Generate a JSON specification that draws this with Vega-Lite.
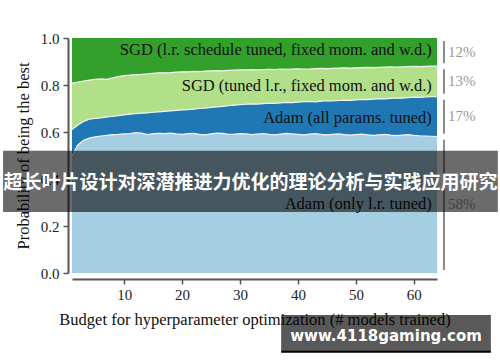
{
  "$schema": "https://vega.github.io/schema/vega-lite/v6.json",
  "autosize": "none",
  "width": 365,
  "height": 235,
  "padding": {"left": 72, "top": 38, "right": 63, "bottom": 89},
  "config": {"view": {"stroke": null}, "font": "Liberation Serif"},
  "datasets": {
    "curves": [
      {"x":1,"b1":0.500,"b2":0.610,"b3":0.808,"top":1},
      {"x":2,"b1":0.545,"b2":0.630,"b3":0.812,"top":1},
      {"x":3,"b1":0.565,"b2":0.645,"b3":0.817,"top":1},
      {"x":4,"b1":0.574,"b2":0.655,"b3":0.821,"top":1},
      {"x":5,"b1":0.579,"b2":0.658,"b3":0.824,"top":1},
      {"x":6,"b1":0.583,"b2":0.660,"b3":0.826,"top":1},
      {"x":7,"b1":0.586,"b2":0.664,"b3":0.824,"top":1},
      {"x":8,"b1":0.589,"b2":0.666,"b3":0.830,"top":1},
      {"x":9,"b1":0.590,"b2":0.670,"b3":0.836,"top":1},
      {"x":10,"b1":0.592,"b2":0.673,"b3":0.840,"top":1},
      {"x":11,"b1":0.593,"b2":0.676,"b3":0.842,"top":1},
      {"x":12,"b1":0.597,"b2":0.678,"b3":0.844,"top":1},
      {"x":13,"b1":0.595,"b2":0.680,"b3":0.845,"top":1},
      {"x":14,"b1":0.589,"b2":0.681,"b3":0.847,"top":1},
      {"x":15,"b1":0.593,"b2":0.684,"b3":0.850,"top":1},
      {"x":16,"b1":0.594,"b2":0.686,"b3":0.852,"top":1},
      {"x":17,"b1":0.593,"b2":0.688,"b3":0.852,"top":1},
      {"x":18,"b1":0.595,"b2":0.690,"b3":0.853,"top":1},
      {"x":19,"b1":0.592,"b2":0.692,"b3":0.855,"top":1},
      {"x":20,"b1":0.590,"b2":0.694,"b3":0.856,"top":1},
      {"x":21,"b1":0.593,"b2":0.695,"b3":0.856,"top":1},
      {"x":22,"b1":0.594,"b2":0.697,"b3":0.858,"top":1},
      {"x":23,"b1":0.590,"b2":0.700,"b3":0.857,"top":1},
      {"x":24,"b1":0.588,"b2":0.702,"b3":0.859,"top":1},
      {"x":25,"b1":0.592,"b2":0.705,"b3":0.860,"top":1},
      {"x":26,"b1":0.595,"b2":0.707,"b3":0.861,"top":1},
      {"x":27,"b1":0.594,"b2":0.709,"b3":0.860,"top":1},
      {"x":28,"b1":0.590,"b2":0.712,"b3":0.862,"top":1},
      {"x":29,"b1":0.591,"b2":0.714,"b3":0.863,"top":1},
      {"x":30,"b1":0.593,"b2":0.716,"b3":0.864,"top":1},
      {"x":31,"b1":0.592,"b2":0.718,"b3":0.864,"top":1},
      {"x":32,"b1":0.589,"b2":0.720,"b3":0.865,"top":1},
      {"x":33,"b1":0.591,"b2":0.719,"b3":0.864,"top":1},
      {"x":34,"b1":0.593,"b2":0.721,"b3":0.866,"top":1},
      {"x":35,"b1":0.590,"b2":0.723,"b3":0.867,"top":1},
      {"x":36,"b1":0.588,"b2":0.722,"b3":0.866,"top":1},
      {"x":37,"b1":0.591,"b2":0.724,"b3":0.868,"top":1},
      {"x":38,"b1":0.594,"b2":0.726,"b3":0.867,"top":1},
      {"x":39,"b1":0.592,"b2":0.725,"b3":0.868,"top":1},
      {"x":40,"b1":0.590,"b2":0.727,"b3":0.869,"top":1},
      {"x":41,"b1":0.588,"b2":0.729,"b3":0.868,"top":1},
      {"x":42,"b1":0.591,"b2":0.730,"b3":0.868,"top":1},
      {"x":43,"b1":0.593,"b2":0.728,"b3":0.870,"top":1},
      {"x":44,"b1":0.590,"b2":0.731,"b3":0.871,"top":1},
      {"x":45,"b1":0.588,"b2":0.733,"b3":0.870,"top":1},
      {"x":46,"b1":0.590,"b2":0.732,"b3":0.871,"top":1},
      {"x":47,"b1":0.592,"b2":0.734,"b3":0.872,"top":1},
      {"x":48,"b1":0.589,"b2":0.736,"b3":0.873,"top":1},
      {"x":49,"b1":0.587,"b2":0.735,"b3":0.872,"top":1},
      {"x":50,"b1":0.589,"b2":0.737,"b3":0.873,"top":1},
      {"x":51,"b1":0.591,"b2":0.739,"b3":0.874,"top":1},
      {"x":52,"b1":0.588,"b2":0.738,"b3":0.875,"top":1},
      {"x":53,"b1":0.586,"b2":0.740,"b3":0.874,"top":1},
      {"x":54,"b1":0.588,"b2":0.742,"b3":0.875,"top":1},
      {"x":55,"b1":0.590,"b2":0.741,"b3":0.876,"top":1},
      {"x":56,"b1":0.587,"b2":0.743,"b3":0.877,"top":1},
      {"x":57,"b1":0.585,"b2":0.745,"b3":0.876,"top":1},
      {"x":58,"b1":0.587,"b2":0.744,"b3":0.877,"top":1},
      {"x":59,"b1":0.589,"b2":0.746,"b3":0.878,"top":1},
      {"x":60,"b1":0.586,"b2":0.748,"b3":0.879,"top":1},
      {"x":61,"b1":0.584,"b2":0.747,"b3":0.878,"top":1},
      {"x":62,"b1":0.583,"b2":0.749,"b3":0.879,"top":1},
      {"x":63,"b1":0.582,"b2":0.750,"b3":0.880,"top":1},
      {"x":64,"b1":0.580,"b2":0.750,"b3":0.880,"top":1}
    ],
    "labels": [
      {"label":"SGD (l.r. schedule tuned, fixed mom. and w.d.)","y":0.949,"xl":63.1},
      {"label":"SGD (tuned l.r., fixed mom. and w.d.)","y":0.796,"xl":63.1},
      {"label":"Adam (all params. tuned)","y":0.658,"xl":63.1},
      {"label":"Adam (only l.r. tuned)","y":0.294,"xl":63.1}
    ],
    "shares": [
      {"pct":"12%","lo":0.88,"hi":1.0,"mid":0.942,"xr":65.2,"xt":65.9},
      {"pct":"13%","lo":0.75,"hi":0.88,"mid":0.818,"xr":65.2,"xt":65.9},
      {"pct":"17%","lo":0.58,"hi":0.75,"mid":0.668,"xr":65.2,"xt":65.9},
      {"pct":"58%","lo":0.0,"hi":0.58,"mid":0.294,"xr":65.2,"xt":65.9}
    ],
    "banner": [
      {"t":"超长叶片设计对深潜推进力优化的理论分析与实践应用研究","x0":-10.9,"x1":74.5,"ya":0.52,"yb":0.26,"xm":31.8,"ym":0.385}
    ],
    "mark": [
      {"t":"www.4118gaming.com","x0":37.1,"x1":73.3,"ya":-0.179,"yb":-0.328,"yl":-0.334,"xm":55.2,"ym":-0.27}
    ]
  },
  "layer": [
    {
      "data": {"name": "curves"},
      "mark": {"type": "area", "color": "#a6cee3"},
      "encoding": {
        "x": {"field": "x", "type": "quantitative",
          "scale": {"domain": [1, 64], "nice": false, "zero": false},
          "axis": {"values": [10, 20, 30, 40, 50, 60], "grid": false, "offset": 6,
            "domainColor": "#555", "domainWidth": 2, "tickColor": "#555", "tickWidth": 1.5, "tickSize": 5,
            "labelFont": "Liberation Serif", "labelFontSize": 15, "labelColor": "#222", "labelPadding": 3,
            "title": "Budget for hyperparameter optimization (# models trained)",
            "titleFont": "Liberation Serif", "titleFontSize": 16.5, "titleFontWeight": "normal", "titleColor": "#111", "titlePadding": 9}},
        "y": {"field": "b1", "type": "quantitative",
          "scale": {"domain": [0, 1], "nice": false},
          "axis": {"values": [0, 0.2, 0.4, 0.6, 0.8, 1.0], "format": ".1f", "grid": false, "offset": 4,
            "domainColor": "#555", "domainWidth": 2, "tickColor": "#555", "tickWidth": 1.5, "tickSize": 5,
            "labelFont": "Liberation Serif", "labelFontSize": 15, "labelColor": "#222", "labelPadding": 4,
            "title": "Probability of being the best",
            "titleFont": "Liberation Serif", "titleFontSize": 16.5, "titleFontWeight": "normal", "titleColor": "#111", "titlePadding": 9}}
      }
    },
    {
      "data": {"name": "curves"},
      "mark": {"type": "area", "color": "#1f78b4"},
      "encoding": {
        "x": {"field": "x", "type": "quantitative"},
        "y": {"field": "b2", "type": "quantitative"},
        "y2": {"field": "b1"}
      }
    },
    {
      "data": {"name": "curves"},
      "mark": {"type": "area", "color": "#b2df8a"},
      "encoding": {
        "x": {"field": "x", "type": "quantitative"},
        "y": {"field": "b3", "type": "quantitative"},
        "y2": {"field": "b2"}
      }
    },
    {
      "data": {"name": "curves"},
      "mark": {"type": "area", "color": "#33a02c"},
      "encoding": {
        "x": {"field": "x", "type": "quantitative"},
        "y": {"field": "top", "type": "quantitative"},
        "y2": {"field": "b3"}
      }
    },
    {
      "data": {"name": "curves"},
      "mark": {"type": "line", "color": "#f4f4f4", "strokeWidth": 1.2},
      "encoding": {
        "x": {"field": "x", "type": "quantitative"},
        "y": {"field": "b1", "type": "quantitative"}
      }
    },
    {
      "data": {"name": "curves"},
      "mark": {"type": "line", "color": "#f4f4f4", "strokeWidth": 1.2},
      "encoding": {
        "x": {"field": "x", "type": "quantitative"},
        "y": {"field": "b2", "type": "quantitative"}
      }
    },
    {
      "data": {"name": "curves"},
      "mark": {"type": "line", "color": "#f4f4f4", "strokeWidth": 1.2},
      "encoding": {
        "x": {"field": "x", "type": "quantitative"},
        "y": {"field": "b3", "type": "quantitative"}
      }
    },
    {
      "data": {"name": "labels"},
      "mark": {"type": "text", "align": "right", "baseline": "middle", "font": "Liberation Serif", "fontSize": 16.5, "color": "#111"},
      "encoding": {
        "x": {"field": "xl", "type": "quantitative"},
        "y": {"field": "y", "type": "quantitative"},
        "text": {"field": "label"}
      }
    },
    {
      "data": {"name": "shares"},
      "mark": {"type": "rule", "color": "#8a8a8a", "strokeWidth": 2, "yOffset": 3, "y2Offset": -3},
      "encoding": {
        "x": {"field": "xr", "type": "quantitative"},
        "y": {"field": "hi", "type": "quantitative"},
        "y2": {"field": "lo"}
      }
    },
    {
      "data": {"name": "shares"},
      "mark": {"type": "text", "align": "left", "baseline": "middle", "font": "Liberation Serif", "fontSize": 15, "color": "#999"},
      "encoding": {
        "x": {"field": "xt", "type": "quantitative"},
        "y": {"field": "mid", "type": "quantitative"},
        "text": {"field": "pct"}
      }
    },
    {
      "data": {"name": "banner"},
      "mark": {"type": "rect", "color": "#000", "opacity": 0.58},
      "encoding": {
        "x": {"field": "x0", "type": "quantitative"},
        "x2": {"field": "x1"},
        "y": {"field": "ya", "type": "quantitative"},
        "y2": {"field": "yb"}
      }
    },
    {
      "data": {"name": "banner"},
      "mark": {"type": "text", "align": "center", "baseline": "middle", "font": "Noto Sans CJK SC", "fontWeight": "bold", "fontSize": 19, "color": "#fff"},
      "encoding": {
        "x": {"field": "xm", "type": "quantitative"},
        "y": {"field": "ym", "type": "quantitative"},
        "text": {"field": "t"}
      }
    },
    {
      "data": {"name": "mark"},
      "mark": {"type": "rect", "color": "#000", "opacity": 0.65},
      "encoding": {
        "x": {"field": "x0", "type": "quantitative"},
        "x2": {"field": "x1"},
        "y": {"field": "ya", "type": "quantitative"},
        "y2": {"field": "yb"}
      }
    },
    {
      "data": {"name": "mark"},
      "mark": {"type": "rule", "color": "#000", "strokeWidth": 2.5},
      "encoding": {
        "x": {"field": "x0", "type": "quantitative"},
        "x2": {"field": "x1"},
        "y": {"field": "yl", "type": "quantitative"}
      }
    },
    {
      "data": {"name": "mark"},
      "mark": {"type": "text", "align": "center", "baseline": "middle", "font": "DejaVu Sans", "fontWeight": "bold", "fontSize": 15, "color": "#fff"},
      "encoding": {
        "x": {"field": "xm", "type": "quantitative"},
        "y": {"field": "ym", "type": "quantitative"},
        "text": {"field": "t"}
      }
    }
  ]
}
